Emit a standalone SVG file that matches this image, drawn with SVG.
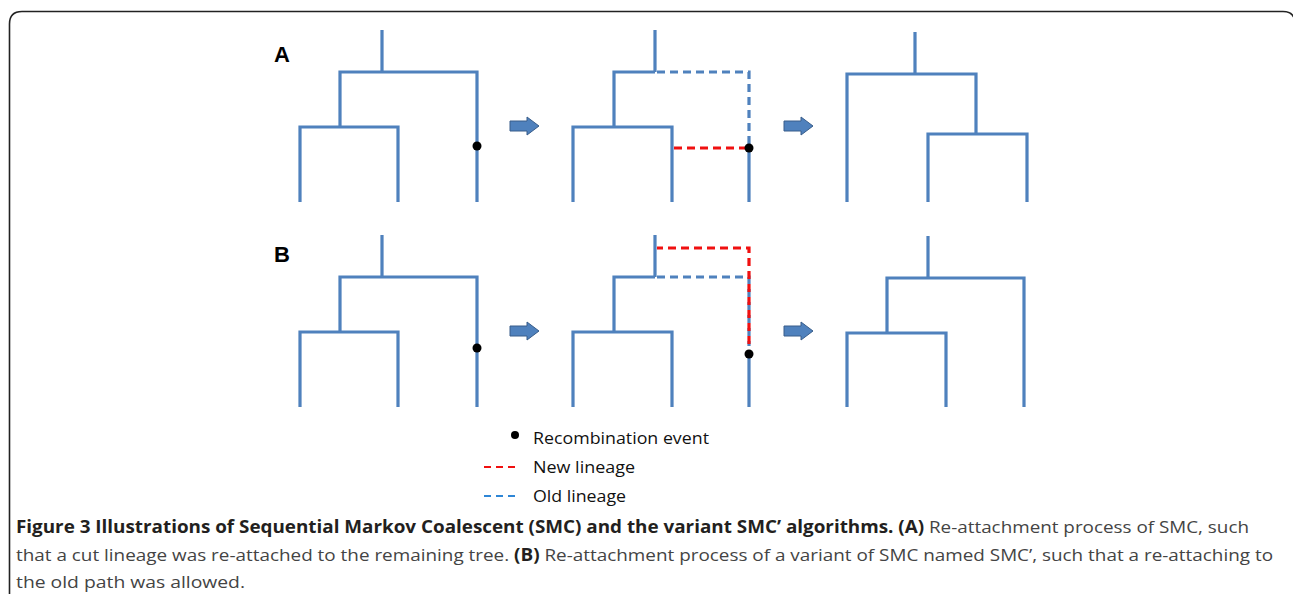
<svg xmlns="http://www.w3.org/2000/svg" width="1293" height="594" viewBox="0 0 1293 594">
<style>
.br{fill:none;stroke:#4F81BD;stroke-width:3.2;stroke-linecap:butt;stroke-linejoin:miter}
.db{fill:none;stroke:#4F81BD;stroke-width:3.2;stroke-dasharray:8 5}
.dr{fill:none;stroke:#F01010;stroke-width:3.2;stroke-dasharray:8 5}
.dot{fill:#000}
.ba{fill:#4F81BD;stroke:#385D8A;stroke-width:1}
.lbl{font-family:"Liberation Sans",Arial,sans-serif;font-weight:bold;font-size:22px;fill:#000}
.leg{font-family:"Open Sans","Liberation Sans",sans-serif;font-size:17px;fill:#111}
.cap{font-family:"Open Sans","Liberation Sans",sans-serif;font-size:17px;fill:#444}
.b{font-weight:bold;fill:#231f20}
</style>
<defs>
<path id="blk" d="M0,-5 H17 V-9 L29,0 L17,9 V5 H0 Z"/>
</defs>
<rect width="1293" height="594" fill="#fff"/>
<path d="M9.5,594 V24 Q9.5,11.5 22,11.5 H1283 Q1295,11.5 1295,24" fill="none" stroke="#222" stroke-width="1.6"/>

<g id="label-A"><text class="lbl" x="274" y="62">A</text></g>
<g id="label-B"><text class="lbl" x="274" y="262">B</text></g>

<g id="tree-A1">
<path class="br" d="M382,30 V72 M340,127 V72 H477 V202 M300,202 V127 H398 V202"/>
<circle class="dot" cx="477" cy="146" r="4.5"/>
</g>
<g id="tree-A2">
<path class="br" d="M655,30 V72 M655,72 H614 V127 M573,202 V127 H672 V202 M749,148 V202"/>
<path class="db" d="M657,72 H749 V146"/>
<path class="dr" d="M674,148 H746"/>
<circle class="dot" cx="749" cy="148" r="4.5"/>
</g>
<g id="tree-A3">
<path class="br" d="M915,32 V74 M847,202 V74 H976 V134 M928,202 V134 H1027 V202"/>
</g>

<g id="tree-B1">
<path class="br" d="M382,235 V277 M340,332 V277 H477 V407 M300,407 V332 H398 V407"/>
<circle class="dot" cx="477" cy="348" r="4.5"/>
</g>
<g id="tree-B2">
<path class="br" d="M655,235 V277 M655,277 H614 V332 M573,407 V332 H672 V407 M749,354 V407"/>
<path class="db" d="M657,277 H749 V346"/>
<path class="dr" d="M657,248 H749 V344" stroke-dashoffset="2"/>
<circle class="dot" cx="749" cy="354" r="4.5"/>
</g>
<g id="tree-B3">
<path class="br" d="M928,236 V278 M887,333 V278 H1024 V407 M847,407 V333 H946 V407"/>
</g>

<g id="connectors">
<use href="#blk" class="ba" x="510" y="126"/>
<use href="#blk" class="ba" x="784" y="126"/>
<use href="#blk" class="ba" x="510" y="331"/>
<use href="#blk" class="ba" x="784" y="331"/>
</g>

<g id="legend">
<circle class="dot" cx="515" cy="435" r="4"/>
<text class="leg" x="533" y="444" textLength="176" lengthAdjust="spacingAndGlyphs">Recombination event</text>
<path d="M484,467 H516" stroke="#F01010" stroke-width="2.2" stroke-dasharray="7 5"/>
<text class="leg" x="533" y="473" textLength="102" lengthAdjust="spacingAndGlyphs">New lineage</text>
<path d="M484,496 H516" stroke="#2E86D6" stroke-width="2.2" stroke-dasharray="7 5"/>
<text class="leg" x="533" y="502" textLength="93" lengthAdjust="spacingAndGlyphs">Old lineage</text>
</g>

<g id="caption">
<text class="cap" x="16" y="533" textLength="1233" lengthAdjust="spacingAndGlyphs"><tspan class="b">Figure 3 Illustrations of Sequential Markov Coalescent (SMC) and the variant SMC’ algorithms. (A)</tspan> Re-attachment process of SMC, such</text>
<text class="cap" x="16" y="561" textLength="1257" lengthAdjust="spacingAndGlyphs">that a cut lineage was re-attached to the remaining tree. <tspan class="b">(B)</tspan> Re-attachment process of a variant of SMC named SMC’, such that a re-attaching to</text>
<text class="cap" x="16" y="588" textLength="229" lengthAdjust="spacingAndGlyphs">the old path was allowed.</text>
</g>
</svg>
